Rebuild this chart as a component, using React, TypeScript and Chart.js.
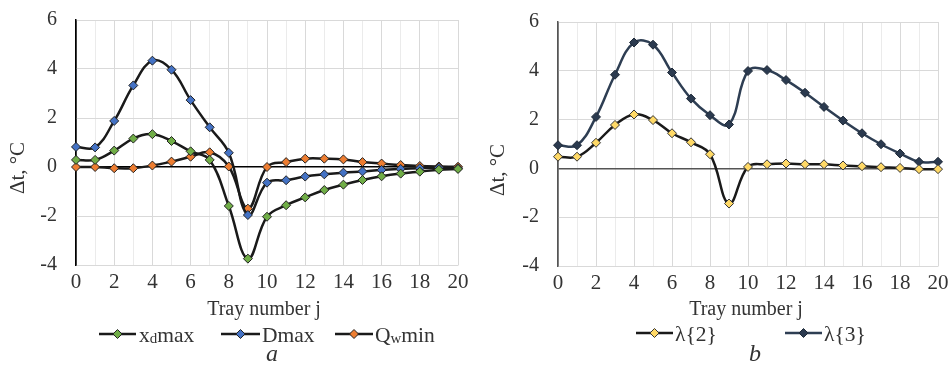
import React, { useEffect, useRef } from 'react';
import { Chart, registerables } from 'chart.js';
Chart.register(...registerables);

const trays = ['0','1','2','3','4','5','6','7','8','9','10','11','12','13','14','15','16','17','18','19','20'];
const xdMax = [0.29, 0.29, 0.67, 1.16, 1.34, 1.06, 0.64, 0.29, -1.59, -3.74, -2.03, -1.56, -1.24, -0.94, -0.72, -0.53, -0.38, -0.27, -0.19, -0.11, -0.08];
const dMax = [0.82, 0.8, 1.88, 3.33, 4.34, 3.97, 2.73, 1.62, 0.58, -1.96, -0.64, -0.54, -0.39, -0.3, -0.23, -0.18, -0.12, -0.08, -0.05, -0.03, -0.05];
const qwMin = [0.0, 0.0, -0.05, -0.05, 0.06, 0.22, 0.42, 0.6, 0.02, -1.7, 0.0, 0.2, 0.34, 0.34, 0.31, 0.2, 0.14, 0.08, 0.04, 0.02, 0.01];
const lambda2 = [0.48, 0.48, 1.05, 1.78, 2.21, 1.98, 1.44, 1.07, 0.58, -1.44, 0.06, 0.17, 0.2, 0.17, 0.17, 0.12, 0.09, 0.05, 0.02, -0.03, -0.03];
const lambda3 = [0.95, 0.95, 2.11, 3.84, 5.16, 5.07, 3.93, 2.86, 2.18, 1.8, 3.99, 4.03, 3.62, 3.1, 2.52, 1.96, 1.44, 0.99, 0.61, 0.27, 0.27];
const yMin = -4;
const yMax = 6;
const yStep = 2;

const FONT = '"Liberation Serif", "Times New Roman", serif';
const TXT = '#333333';

type Seg = { t: string; sub?: boolean };
type LegendItem = { label: Seg[]; lineColor: string; fill: string; border: string; x1: number; x2: number; tx: number };

type Panel = {
  datasets: { label: string; data: number[]; lineColor: string; fill: string; border: string }[];
  pad: { left: number; right: number; top: number };
  yWidth: number;
  xHeight: number;
  axisColor: string;
  yTitle: [number, number];
  xTitle: [number, number];
  legendY: number;
  legend: LegendItem[];
  letter: string;
  letterPos: [number, number];
};

function drawDiamond(ctx: CanvasRenderingContext2D, x: number, y: number, r: number, fill: string, border: string) {
  ctx.beginPath();
  ctx.moveTo(x - r, y);
  ctx.lineTo(x, y - r);
  ctx.lineTo(x + r, y);
  ctx.lineTo(x, y + r);
  ctx.closePath();
  ctx.fillStyle = fill;
  ctx.fill();
  ctx.lineWidth = 1;
  ctx.strokeStyle = border;
  ctx.stroke();
}

function makePlugin(p: Panel) {
  return {
    id: 'texts',
    afterDraw(chart: any) {
      const ctx: CanvasRenderingContext2D = chart.ctx;
      ctx.save();
      ctx.fillStyle = TXT;
      // y title
      ctx.save();
      ctx.font = `21px ${FONT}`;
      ctx.translate(p.yTitle[0], p.yTitle[1]);
      ctx.rotate(-Math.PI / 2);
      ctx.textAlign = 'center';
      ctx.textBaseline = 'middle';
      ctx.fillText('Δt, °C', 0, 0);
      ctx.restore();
      // x title
      ctx.font = `20px ${FONT}`;
      ctx.textAlign = 'center';
      ctx.textBaseline = 'alphabetic';
      ctx.fillText('Tray number j', p.xTitle[0], p.xTitle[1]);
      // legend
      for (const it of p.legend) {
        ctx.beginPath();
        ctx.moveTo(it.x1, p.legendY);
        ctx.lineTo(it.x2, p.legendY);
        ctx.lineWidth = 2.5;
        ctx.strokeStyle = it.lineColor;
        ctx.stroke();
        drawDiamond(ctx, (it.x1 + it.x2) / 2, p.legendY, 4.5, it.fill, it.border);
        let x = it.tx;
        ctx.textAlign = 'left';
        ctx.fillStyle = TXT;
        for (const s of it.label) {
          ctx.font = s.sub ? `15px ${FONT}` : `21.5px ${FONT}`;
          ctx.fillText(s.t, x, p.legendY + 8 + (s.sub ? 1 : 0));
          x += ctx.measureText(s.t).width;
        }
      }
      // letter
      ctx.font = `italic 24px ${FONT}`;
      ctx.textAlign = 'center';
      ctx.fillText(p.letter, p.letterPos[0], p.letterPos[1]);
      ctx.restore();
    },
  };
}

function ChartPanel({ panel }: { panel: Panel }) {
  const ref = useRef<HTMLCanvasElement>(null);
  useEffect(() => {
    const p = panel;
    const chart = new Chart(ref.current as HTMLCanvasElement, {
      type: 'line',
      data: {
        labels: trays,
        datasets: p.datasets.map((d) => ({
          label: d.label,
          data: d.data,
          borderColor: d.lineColor,
          borderWidth: 2.5,
          tension: 0.4,
          pointStyle: 'rectRot',
          pointRadius: 4.5,
          pointBackgroundColor: d.fill,
          pointBorderColor: d.border,
          pointBorderWidth: 1,
          fill: false,
        })),
      },
      options: {
        animation: false,
        responsive: false,
        devicePixelRatio: 1,
        layout: { padding: { left: p.pad.left, right: p.pad.right, top: p.pad.top, bottom: 0 } },
        plugins: { legend: { display: false }, tooltip: { enabled: false } },
        scales: {
          x: {
            type: 'category',
            grid: {
              drawTicks: true,
              tickLength: 5,
              tickColor: 'rgba(0,0,0,0)',
              color: (c: any) => (c.index === 0 ? p.axisColor : c.index % 2 === 0 ? '#d9d9d9' : '#ebebeb'),
              lineWidth: (c: any) => (c.index === 0 ? 1.5 : 1),
            },
            border: { display: true, color: '#d9d9d9' },
            ticks: {
              autoSkip: false,
              maxRotation: 0,
              padding: 0,
              color: TXT,
              font: { family: FONT, size: 21 },
              callback: (_v: any, i: number) => (i % 2 === 0 ? trays[i] : ''),
            },
            afterFit: (s: any) => { s.height = p.xHeight; },
          },
          y: {
            type: 'linear',
            min: yMin,
            max: yMax,
            ticks: {
              stepSize: yStep,
              padding: 2,
              color: TXT,
              font: { family: FONT, size: 20 },
              callback: (v: any) => String(v),
            },
            grid: {
              drawTicks: true,
              tickLength: 17,
              tickColor: 'rgba(0,0,0,0)',
              color: (c: any) => (c.tick && c.tick.value === 0 ? p.axisColor : '#d9d9d9'),
              lineWidth: (c: any) => (c.tick && c.tick.value === 0 ? 1.5 : 1),
            },
            border: { display: true, color: p.axisColor, width: 1.5 },
            afterFit: (s: any) => { s.width = p.yWidth; },
          },
        },
      },
      plugins: [makePlugin(p)],
    } as any);
    return () => chart.destroy();
  }, [panel]);
  return <canvas ref={ref} width={476} height={372} style={{ display: 'block', width: 476, height: 372 }} />;
}

const BLACK = '#1a1a1a';

const panelA: Panel = {
  datasets: [
    { label: 'xdmax', data: xdMax, lineColor: BLACK, fill: '#70AD47', border: '#222' },
    { label: 'Dmax', data: dMax, lineColor: BLACK, fill: '#4472C4', border: '#222' },
    { label: 'Qwmin', data: qwMin, lineColor: BLACK, fill: '#ED7D31', border: '#222' },
  ],
  pad: { left: 0, right: 18, top: 20 },
  yWidth: 76,
  xHeight: 107,
  axisColor: '#000000',
  yTitle: [18.5, 168],
  xTitle: [264, 315],
  legendY: 334,
  legend: [
    { label: [{ t: 'x' }, { t: 'd', sub: true }, { t: 'max' }], lineColor: BLACK, fill: '#70AD47', border: '#222', x1: 99, x2: 136, tx: 139 },
    { label: [{ t: 'Dmax' }], lineColor: BLACK, fill: '#4472C4', border: '#222', x1: 221, x2: 260, tx: 262 },
    { label: [{ t: 'Q' }, { t: 'w', sub: true }, { t: 'min' }], lineColor: BLACK, fill: '#ED7D31', border: '#222', x1: 335, x2: 373, tx: 375 },
  ],
  letter: 'a',
  letterPos: [272, 361],
};

const NAVY = '#2E3E53';

const panelB: Panel = {
  datasets: [
    { label: 'λ{2}', data: lambda2, lineColor: BLACK, fill: '#FFD966', border: '#333' },
    { label: 'λ{3}', data: lambda3, lineColor: NAVY, fill: '#2B3A4F', border: '#1f2a38' },
  ],
  pad: { left: 0, right: 14, top: 22 },
  yWidth: 82,
  xHeight: 106,
  axisColor: '#555555',
  yTitle: [22.5, 170],
  xTitle: [270, 315],
  legendY: 333,
  legend: [
    { label: [{ t: 'λ{2}' }], lineColor: BLACK, fill: '#FFD966', border: '#333', x1: 160, x2: 197, tx: 199 },
    { label: [{ t: 'λ{3}' }], lineColor: NAVY, fill: '#2B3A4F', border: '#1f2a38', x1: 309, x2: 346, tx: 348 },
  ],
  letter: 'b',
  letterPos: [279, 361],
};

export default function App() {
  return (
    <div style={{ position: 'fixed', left: 0, top: 0, width: 952, height: 372, display: 'flex', background: '#fff' }}>
      <ChartPanel panel={panelA} />
      <ChartPanel panel={panelB} />
    </div>
  );
}
